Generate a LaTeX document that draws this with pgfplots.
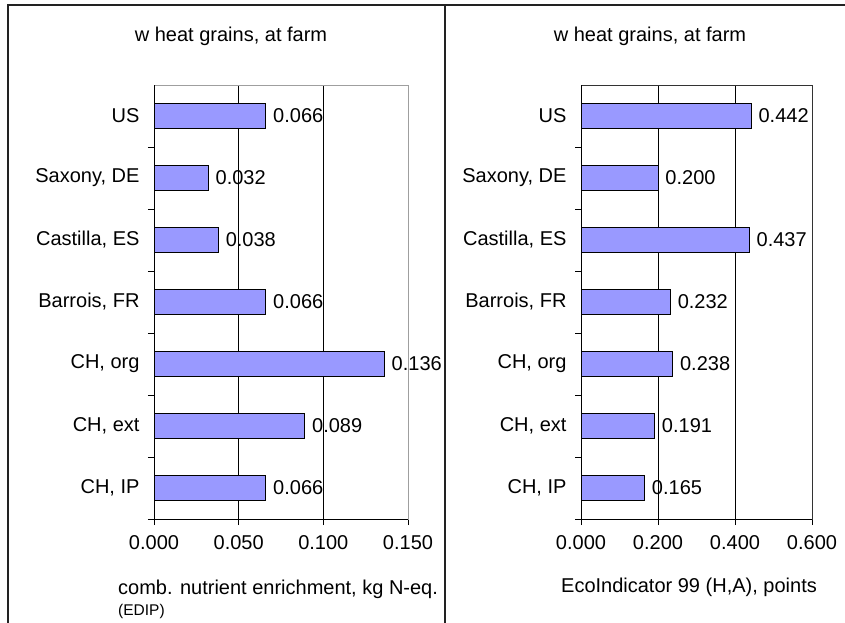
\documentclass[border=0pt]{standalone}
\usepackage{pgfplots}
\pgfplotsset{compat=1.18}
\usepackage{fontspec}
\setmainfont{Liberation Sans}
\definecolor{barblue}{HTML}{9999FF}
\definecolor{frame}{HTML}{222222}
\newcommand{\bigf}{\fontsize{20bp}{23bp}\selectfont}
\pgfplotsset{
  mybar/.style={
    scale only axis,
    xbar, bar width=25bp,
    y dir=reverse,
    ymin=-0.5, ymax=6.5,
    xmin=0,
    ytick={0.5,1.5,...,6.5},
    yticklabels={},
    extra y ticks={0,1,2,3,4,5,6},
    extra y tick labels={US,{Saxony, DE},{Castilla, ES},{Barrois, FR},{CH, org},{CH, ext},{CH, IP}},
    extra y tick style={major tick length=0pt, yticklabel style={xshift=-11bp}},
    tick align=outside,
    tick pos=left,
    major tick length=6bp,
    tick style={black, line width=0.8bp},
    xmajorgrids,
    major grid style={black, line width=0.8bp},
    clip=false,
    xticklabel style={yshift=-7bp},
    font=\bigf,
    /pgf/number format/.cd, fixed, precision=3, zerofill, assume math mode=true,
    /pgfplots/.cd,
    nodes near coords,
    nodes near coords style={font=\bigf, anchor=west, inner sep=0pt, xshift=7bp},
  }
}
\begin{document}
\begin{tikzpicture}
\useasboundingbox (0bp,0bp) rectangle (845bp,623bp);
% frame
\draw[frame, line width=2bp] (8bp,0bp) -- (8bp,618bp) -- (845bp,618bp);
\draw[frame, line width=2bp] (445bp,0bp) -- (445bp,618bp);

\begin{axis}[mybar, at={(154bp,104bp)}, anchor=south west, width=254bp, height=434bp,
  xmax=0.15, xtick={0,0.05,0.1,0.15},
  axis line style={draw=gray!75, line width=0.8bp}]
\addplot[fill=barblue, draw=black, line width=0.9bp] coordinates {
(0.066,0) (0.032,1) (0.038,2) (0.066,3) (0.136,4) (0.089,5) (0.066,6)};
\draw[black, line width=0.9bp] (axis cs:0,-0.5) -- (axis cs:0,6.5) -- (axis cs:0.15,6.5);
\end{axis}

\begin{axis}[mybar, at={(581bp,104bp)}, anchor=south west, width=231bp, height=434bp,
  xmax=0.6, xtick={0,0.2,0.4,0.6},
  axis line style={draw=black!80, line width=0.9bp}]
\addplot[fill=barblue, draw=black, line width=0.9bp] coordinates {
(0.442,0) (0.200,1) (0.437,2) (0.232,3) (0.238,4) (0.191,5) (0.165,6)};
\draw[black, line width=0.9bp] (axis cs:0,-0.5) -- (axis cs:0,6.5) -- (axis cs:0.6,6.5);
\end{axis}

\node[anchor=base, inner sep=0pt, font=\bigf] at (231bp,581bp) {w heat grains, at farm};
\node[anchor=base, inner sep=0pt, font=\bigf] at (650bp,581bp) {w heat grains, at farm};
\node[anchor=base west, inner sep=0pt, font=\bigf] at (118bp,29bp) {comb. nutrient enrichment, kg N-eq.};
\node[anchor=base west, inner sep=0pt, font=\fontsize{15.5bp}{18bp}\selectfont] at (118bp,8bp) {(EDIP)};
\node[anchor=base, inner sep=0pt, font=\bigf] at (689bp,31bp) {EcoIndicator 99 (H,A), points};
\end{tikzpicture}
\end{document}
